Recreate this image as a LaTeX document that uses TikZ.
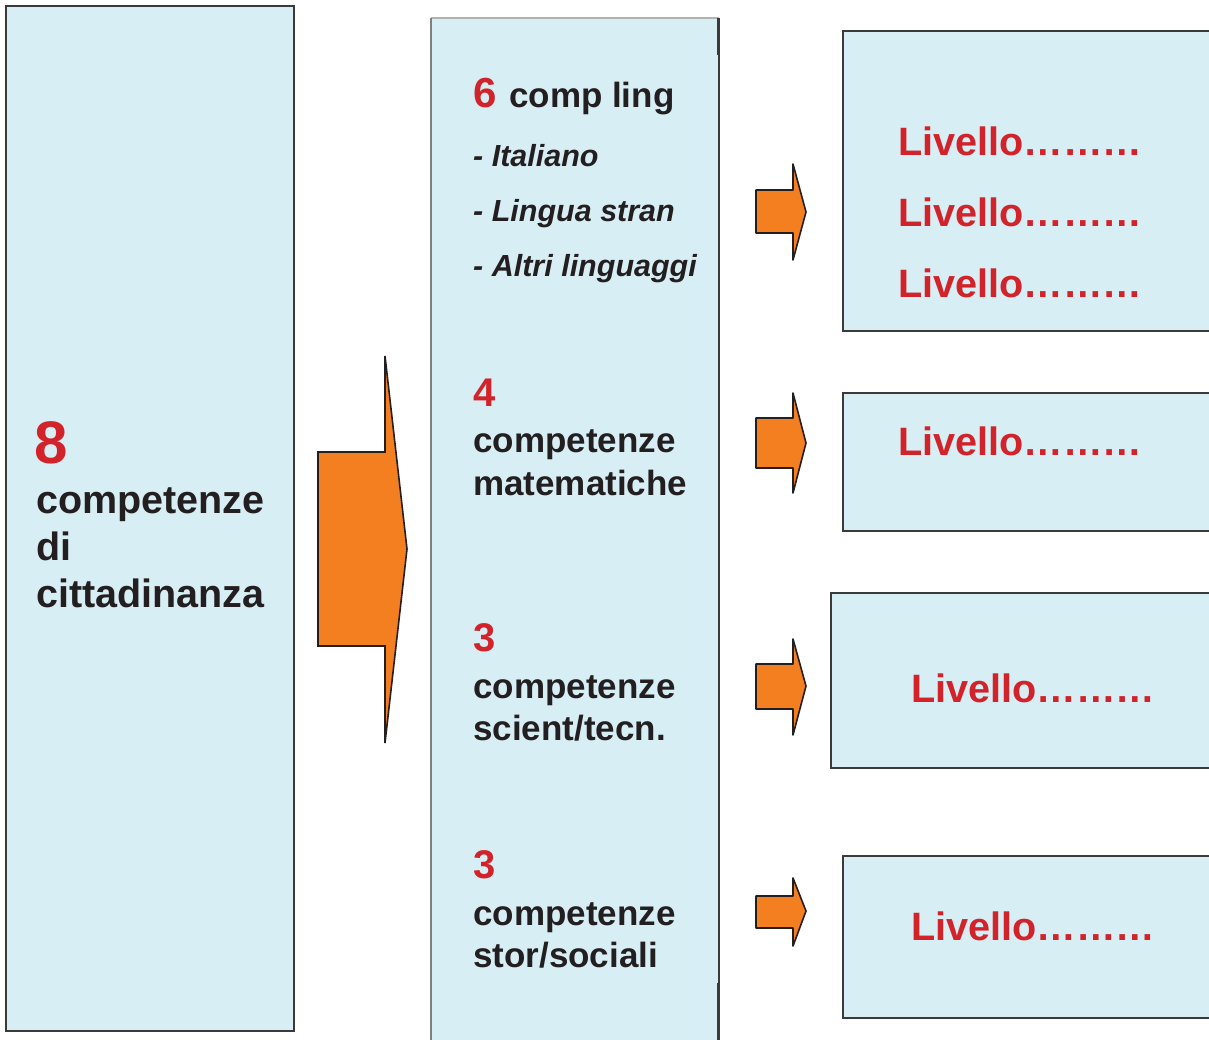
\documentclass[tikz,border=0pt]{standalone}
\usepackage{fontspec}
\setmainfont{Liberation Sans}
\definecolor{boxfill}{HTML}{D8EEF5}
\definecolor{boxline}{HTML}{3A3A3A}
\definecolor{arrowfill}{HTML}{F47F20}
\definecolor{numred}{HTML}{D2232A}
\definecolor{ink}{HTML}{231F20}
\tikzset{
  panel/.style={fill=boxfill, draw=boxline, line width=2pt},
  fatarrow/.style={fill=arrowfill, draw=ink, line width=1.6pt, line join=round},
  txt/.style={anchor=base west, inner sep=0pt, text=ink, font=\bfseries\fontsize{35}{42}\selectfont},
  lefttxt/.style={txt, font=\bfseries\fontsize{39.5}{47}\selectfont},
  subtxt/.style={txt, font=\bfseries\itshape\fontsize{30.5}{36}\selectfont},
  num/.style={txt, text=numred, font=\bfseries\fontsize{40}{48}\selectfont},
  lvl/.style={txt, text=numred, font=\bfseries\fontsize{39.6}{47}\selectfont},
}
\begin{document}
\begin{tikzpicture}[x=1pt,y=-1pt]
\useasboundingbox (0,0) rectangle (1209,1039);
\clip (0,0) rectangle (1209,1039);

% left panel
\path[panel] (6,6) rectangle (294,1031);

% middle panel (runs off the bottom)
\fill[boxfill] (431,18) rectangle (719,1045);
\draw[line width=1.2pt, draw=black!30] (431,18) -- (719,18);
\draw[line width=1.2pt, draw=black!50] (431,18) -- (431,1045);
\draw[line width=1.2pt, draw=boxline] (719,18) -- (719,1045);
\draw[line width=2.6pt, draw=boxline] (718.5,18) -- (718.5,55);
\draw[line width=2.6pt, draw=boxline] (718.5,983) -- (718.5,1045);

% right panels (run off the right edge)
\path[panel] (843,31) rectangle (1215,331);
\path[panel] (843,393) rectangle (1215,531);
\path[panel] (831,593) rectangle (1215,768);
\path[panel] (843,856) rectangle (1215,1018);

% big arrow
\path[fatarrow, line join=miter] (318,452) -- (385,452) -- (385,356) -- (407,549)
  -- (385,743) -- (385,646) -- (318,646) -- cycle;

% small arrows
\path[fatarrow] (756,190) -- (793,190) -- (793,164) -- (806,212)
  -- (793,260) -- (793,233) -- (756,233) -- cycle;
\path[fatarrow] (756,418) -- (793,418) -- (793,393) -- (806,443)
  -- (793,493) -- (793,468) -- (756,468) -- cycle;
\path[fatarrow] (756,664) -- (793,664) -- (793,639) -- (806,686)
  -- (793,735) -- (793,709) -- (756,709) -- cycle;
\path[fatarrow] (756,896) -- (793,896) -- (793,878) -- (806,911)
  -- (793,946) -- (793,928) -- (756,928) -- cycle;

% left panel text
\node[num, font=\bfseries\fontsize{60}{70}\selectfont] (n8) at (34,463) {8};
\node[lefttxt] (l1) at (36,513) {competenze};
\node[lefttxt] (l2) at (36,560) {di};
\node[lefttxt] (l3) at (36,607) {cittadinanza};

% middle panel text
\node[num, font=\bfseries\fontsize{42}{50}\selectfont] (n6) at (473,107) {6};
\node[txt] (ling) at (509,107) {comp ling};
\node[subtxt] (s1) at (473,166) {- Italiano};
\node[subtxt] (s2) at (473,221) {- Lingua stran};
\node[subtxt] (s3) at (473,276) {- Altri linguaggi};

\node[num] (n4) at (473,406) {4};
\node[txt] (m1) at (473,452) {competenze};
\node[txt] (m2) at (473,495) {matematiche};

\node[num] (n3a) at (473,651) {3};
\node[txt] (t1) at (473,698) {competenze};
\node[txt] (t2) at (473,740) {scient/tecn.};

\node[num] (n3b) at (473,878) {3};
\node[txt] (h1) at (473,925) {competenze};
\node[txt] (h2) at (473,967) {stor/sociali};

% right panel text
\node[lvl] (v1) at (898,155) {Livello………};
\node[lvl] (v2) at (898,226) {Livello………};
\node[lvl] (v3) at (898,297) {Livello………};
\node[lvl] (v4) at (898,455) {Livello………};
\node[lvl] (v5) at (911,702) {Livello………};
\node[lvl] (v6) at (911,940) {Livello………};
\end{tikzpicture}
\end{document}
